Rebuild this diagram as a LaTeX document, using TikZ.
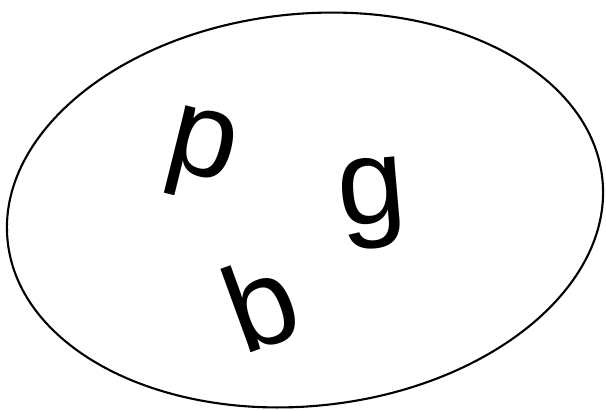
\documentclass[tikz,border=0pt]{standalone}
\usepackage{fontspec}
\setmainfont{Liberation Sans}
\usepackage{tikz}
\usetikzlibrary{positioning}

\begin{document}
\begin{tikzpicture}[x=0.025cm, y=0.025cm,
    letter/.style={font=\fontsize{87}{87}\selectfont, inner sep=0pt}]
    \useasboundingbox (0,0) rectangle (606,410);
    \draw[line width=1.5pt, rotate around={6:(305,200)}]
        (305,200) ellipse [x radius=299, y radius=196];
    \node[letter, rotate=-14] (p) at (200,255) {p};
    \node[letter, rotate=5] (g) at (373,207) {g};
    \node[letter, rotate=20] (b) at (261,107) {b};
\end{tikzpicture}
\end{document}
